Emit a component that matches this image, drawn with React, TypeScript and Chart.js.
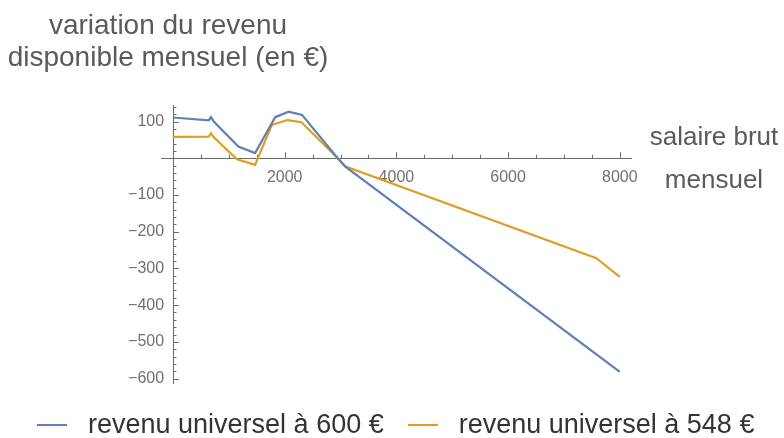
import React, { useEffect, useRef } from 'react';
import { Chart, registerables } from 'chart.js';

Chart.register(...registerables);

// Data (salaire brut mensuel -> variation du revenu disponible mensuel)
const blueLabel = 'revenu universel à 600 €';
const blueX = [0, 640, 680, 730, 1170, 1470, 1830, 2070, 2310, 2950, 3080, 8000];
const blueY = [111, 103, 112, 100, 32, 14, 112, 127, 118, 0, -22, -582];

const yellowLabel = 'revenu universel à 548 €';
const yellowX = [0, 640, 680, 730, 1145, 1470, 1770, 2050, 2300, 2950, 3080, 7580, 8000];
const yellowY = [58, 59, 68, 57, -3, -18, 91, 104, 98, 0, -22, -272, -323];

const xTickLabels = [2000, 4000, 6000, 8000];
const yTickLabels = [100, -100, -200, -300, -400, -500, -600];
const xMinorStep = 500;
const yMinorStep = 20;

const BLUE = '#5E81B5';
const YELLOW = '#E19C24';
const AXIS = '#6a6a6a';

const tickMarks = {
  id: 'tickMarks',
  beforeDatasetsDraw(chart: any) {
    const { ctx, scales } = chart;
    const xs = scales.x;
    const ys = scales.y;
    const x0 = xs.getPixelForValue(0);
    const y0 = ys.getPixelForValue(0);
    ctx.save();
    ctx.strokeStyle = AXIS;
    ctx.lineWidth = 1;
    ctx.beginPath();
    for (let v = xMinorStep; v <= xs.max; v += xMinorStep) {
      const px = Math.round(xs.getPixelForValue(v)) + 0.5;
      const len = xTickLabels.includes(v) ? 6 : 3.5;
      ctx.moveTo(px, y0);
      ctx.lineTo(px, y0 - len);
    }
    const start = Math.ceil(ys.min / yMinorStep) * yMinorStep;
    for (let v = start; v <= ys.max; v += yMinorStep) {
      if (v === 0) continue;
      const py = Math.round(ys.getPixelForValue(v)) + 0.5;
      const len = v % 100 === 0 ? 6 : 3.5;
      ctx.moveTo(x0, py);
      ctx.lineTo(x0 + len, py);
    }
    ctx.stroke();
    ctx.restore();
  },
};

const fmt = (v: number) => (v < 0 ? '\u2212' + Math.abs(v) : String(v));

export default function App() {
  const ref = useRef<HTMLCanvasElement>(null);
  useEffect(() => {
    document.body.style.margin = '0';
    const chart = new Chart(ref.current as HTMLCanvasElement, {
      type: 'line',
      data: {
        datasets: [
          {
            label: blueLabel,
            data: blueX.map((x, i) => ({ x, y: blueY[i] })),
            borderColor: BLUE,
            borderWidth: 2.2,
            pointRadius: 0,
            fill: false,
          },
          {
            label: yellowLabel,
            data: yellowX.map((x, i) => ({ x, y: yellowY[i] })),
            borderColor: YELLOW,
            borderWidth: 2.2,
            pointRadius: 0,
            fill: false,
          },
        ],
      },
      options: {
        animation: false,
        responsive: false,
        maintainAspectRatio: false,
        devicePixelRatio: 1,
        layout: { padding: { left: 161, right: 153, top: 105, bottom: 55 } },
        plugins: { legend: { display: false }, tooltip: { enabled: false } },
        scales: {
          x: {
            type: 'linear',
            min: -215,
            max: 8200,
            position: { y: 0 } as any,
            grid: { display: false, drawTicks: false },
            border: { display: true, color: AXIS, width: 1 },
            afterBuildTicks: (s: any) => {
              s.ticks = xTickLabels.map((value) => ({ value }));
            },
            ticks: {
              color: '#707070',
              padding: 10,
              maxRotation: 0,
              autoSkip: false,
              font: { family: 'Liberation Sans, Arial, sans-serif', size: 16 },
              callback: (v: any) => fmt(Number(v)),
            },
          },
          y: {
            type: 'linear',
            min: -612,
            max: 145,
            position: { x: 0 } as any,
            grid: { display: false, drawTicks: false },
            border: { display: true, color: AXIS, width: 1 },
            afterBuildTicks: (s: any) => {
              s.ticks = yTickLabels.map((value) => ({ value }));
            },
            ticks: {
              color: '#707070',
              autoSkip: false,
              font: { family: 'Liberation Sans, Arial, sans-serif', size: 16 },
              callback: (v: any) => fmt(Number(v)) + '  ',
            },
          },
        },
      },
      plugins: [tickMarks],
    });
    return () => chart.destroy();
  }, []);

  const font = 'Liberation Sans, Arial, sans-serif';
  const legendItems = [
    { label: blueLabel, color: BLUE },
    { label: yellowLabel, color: YELLOW },
  ];
  return (
    <div style={{ position: 'relative', width: 784, height: 438, background: '#fff', overflow: 'hidden' }}>
      <canvas ref={ref} width={784} height={438} style={{ position: 'absolute', left: 0, top: 0 }} />
      <div
        style={{
          position: 'absolute', left: 0, top: 9, width: 336, textAlign: 'center',
          fontFamily: font, fontSize: 28, lineHeight: '32px', color: '#5a5a5a', whiteSpace: 'nowrap',
        }}
      >
        variation du revenu
        <br />
        disponible mensuel (en €)
      </div>
      <div
        style={{
          position: 'absolute', left: 634, top: 115, width: 160, textAlign: 'center',
          fontFamily: font, fontSize: 26, lineHeight: '42.6px', color: '#5a5a5a', whiteSpace: 'nowrap',
        }}
      >
        salaire brut
        <br />
        mensuel
      </div>
      <div
        style={{
          position: 'absolute', left: 37, top: 409, display: 'flex', alignItems: 'center',
          fontFamily: font, fontSize: 27, lineHeight: '30px', color: '#333', whiteSpace: 'nowrap',
        }}
      >
        {legendItems.map((it, i) => (
          <div key={i} style={{ display: 'flex', alignItems: 'center', marginRight: i === 0 ? 24 : 0 }}>
            <span style={{ display: 'inline-block', width: 30, height: 2, background: it.color, marginRight: 21, marginTop: 2 }} />
            <span>{it.label}</span>
          </div>
        ))}
      </div>
    </div>
  );
}
